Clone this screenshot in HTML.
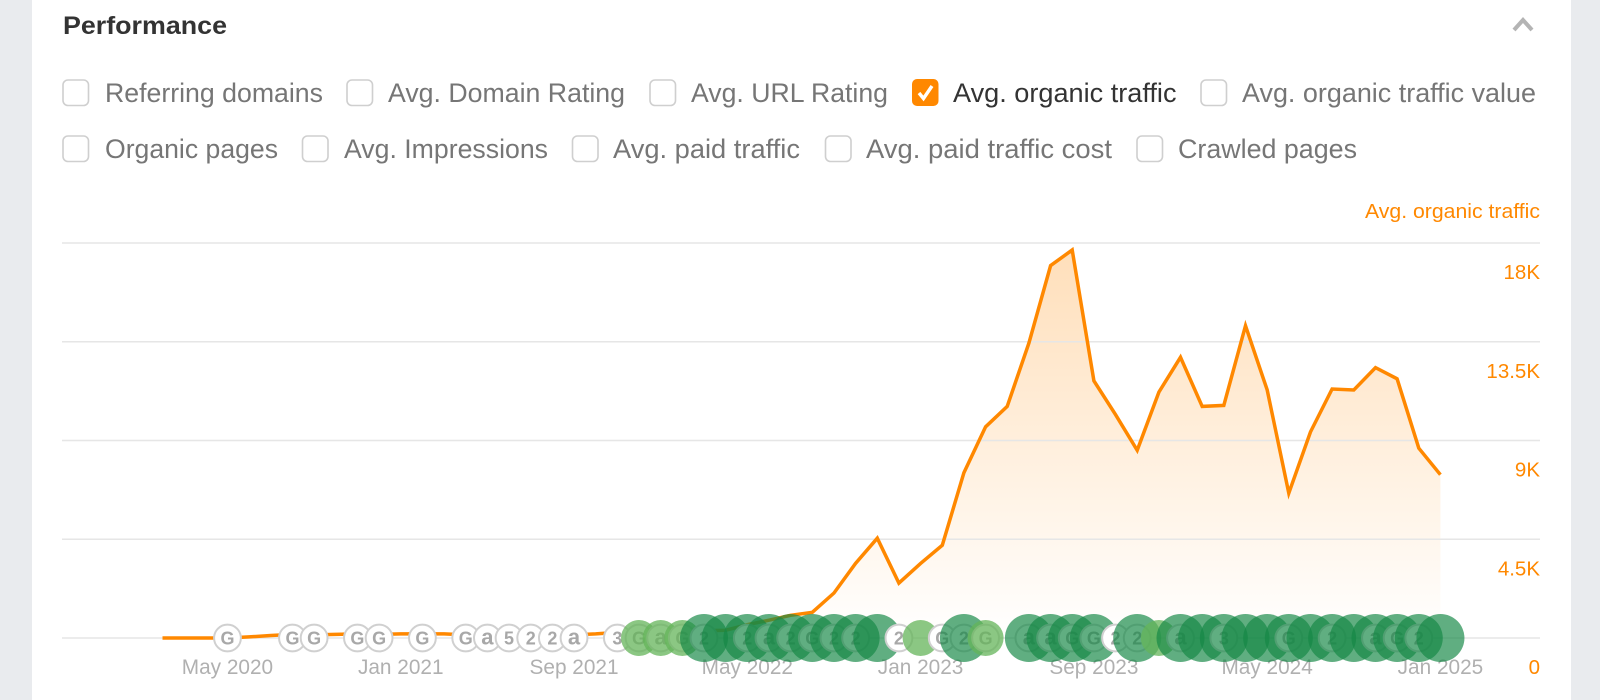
<!DOCTYPE html>
<html lang="en">
<head>
<meta charset="utf-8">
<title>Performance</title>
<style>
html,body{margin:0;padding:0;width:1600px;height:700px;overflow:hidden;background:#e9ebee}
svg{display:block;position:absolute;left:0;top:0}
text{font-family:"Liberation Sans",Arial,sans-serif}
.lbl{font-size:26.5px;fill:#767676}
.cb{fill:#fff;stroke:#cfcfcf;stroke-width:1.6}
</style>
</head>
<body>
<svg id="chart" width="1600" height="700" viewBox="0 0 1600 700" xmlns="http://www.w3.org/2000/svg">
  <defs>
    <linearGradient id="areaFill" gradientUnits="userSpaceOnUse" x1="0" y1="250" x2="0" y2="638">
      <stop offset="0" stop-color="#ff8800" stop-opacity="0.27"/>
      <stop offset="1" stop-color="#ff8800" stop-opacity="0"/>
    </linearGradient>
  </defs>
  <rect x="32" y="-10" width="1539" height="720" fill="#ffffff"/>
  <text x="63" y="34" font-size="25" font-weight="700" fill="#333333" textLength="164" lengthAdjust="spacingAndGlyphs">Performance</text>
  <path d="M1514 30 L1523 20 L1532 30" fill="none" stroke="#b4b4b4" stroke-width="4"/>

  <rect class="cb" x="63" y="80" width="25.5" height="25.5" rx="5"/>
  <text class="lbl" x="105" y="102" textLength="218" lengthAdjust="spacingAndGlyphs">Referring domains</text>
  <rect class="cb" x="347" y="80" width="25.5" height="25.5" rx="5"/>
  <text class="lbl" x="388" y="102" textLength="237" lengthAdjust="spacingAndGlyphs">Avg. Domain Rating</text>
  <rect class="cb" x="650" y="80" width="25.5" height="25.5" rx="5"/>
  <text class="lbl" x="691" y="102" textLength="197" lengthAdjust="spacingAndGlyphs">Avg. URL Rating</text>
  <rect x="912" y="79" width="26.5" height="27" rx="5" fill="#ff8800"/>
  <path d="M919 93 L923.5 98.5 L932 86" fill="none" stroke="#ffffff" stroke-width="3.4"/>
  <text class="lbl" style="fill:#333333" x="953" y="102" textLength="223.500" lengthAdjust="spacingAndGlyphs">Avg. organic traffic</text>
  <rect class="cb" x="1201" y="80" width="25.5" height="25.5" rx="5"/>
  <text class="lbl" x="1242" y="102" textLength="294" lengthAdjust="spacingAndGlyphs">Avg. organic traffic value</text>

  <rect class="cb" x="63" y="136" width="25.5" height="25.5" rx="5"/>
  <text class="lbl" x="105" y="158" textLength="173" lengthAdjust="spacingAndGlyphs">Organic pages</text>
  <rect class="cb" x="302.500" y="136" width="25.5" height="25.5" rx="5"/>
  <text class="lbl" x="344" y="158" textLength="204" lengthAdjust="spacingAndGlyphs">Avg. Impressions</text>
  <rect class="cb" x="572.500" y="136" width="25.5" height="25.5" rx="5"/>
  <text class="lbl" x="613" y="158" textLength="187" lengthAdjust="spacingAndGlyphs">Avg. paid traffic</text>
  <rect class="cb" x="825.500" y="136" width="25.5" height="25.5" rx="5"/>
  <text class="lbl" x="866" y="158" textLength="246" lengthAdjust="spacingAndGlyphs">Avg. paid traffic cost</text>
  <rect class="cb" x="1137" y="136" width="25.5" height="25.5" rx="5"/>
  <text class="lbl" x="1178" y="158" textLength="179" lengthAdjust="spacingAndGlyphs">Crawled pages</text>

  <text x="1540" y="218" text-anchor="end" font-size="20.5" fill="#ff8800" textLength="175" lengthAdjust="spacingAndGlyphs">Avg. organic traffic</text>
  <g id="plot"></g>
</svg>
<script>
// Monthly average organic traffic, Feb 2020 to Jan 2025
const trafficValues = [0,0,0,0,50,115,165,140,165,185,165,185,185,185,140,140,115,115,115,140,185,255,230,230,290,330,355,605,810,1035,1170,2050,3400,4550,2500,3400,4230,7530,9625,10555,13440,16970,17680,11720,10180,8555,11205,12790,10555,10600,14230,11300,6600,9390,11345,11300,12320,11810,8650,7440];
const yTickValues = [0,4500,9000,13500,18000];
const yTickLabels = ["0","4.5K","9K","13.5K","18K"];
const xTickMonths = [3,11,19,27,35,43,51,59];
const xTickLabels = ["May 2020","Jan 2021","Sep 2021","May 2022","Jan 2023","Sep 2023","May 2024","Jan 2025"];
// Annotation markers: month index, kind and glyph
const markerMonths = [3,6,7,9,10,12,14,15,16,17,18,19,21,22,23,24,25,26,27,28,29,30,31,32,33,34,35,36,37,38,40,41,42,43,44,45,46,47,48,49,50,51,52,53,54,55,56,57,58,59];
const markerKinds = ["w","w","w","w","w","w","w","w","w","w","w","w","w","l","l","l","d","d","d","d","d","d","d","d","d","w","l","w","d","l","d","d","d","d","w","d","l","d","d","d","d","d","d","d","d","d","d","d","d","d"];
const markerGlyphs = ["G","G","G","G","G","G","G","a","5","2","2","a","3","G","a","G","2","","2","a","2","G","2","2","","2","","G","2","G","a","a","G","G","2","2","","a","","3","","","G","","2","","a","G","2",""];

const NS = "http://www.w3.org/2000/svg";
const plot = document.getElementById("plot");
const xLeft = 162.5, monthStep = 21.66, yZero = 638, yPerUnit = 395 / 18000;
function xScale(m) { return xLeft + monthStep * m; }
function yScale(v) { return yZero - v * yPerUnit; }
function make(tag, attrs) {
  const el = document.createElementNS(NS, tag);
  for (const k in attrs) el.setAttribute(k, attrs[k]);
  return el;
}

const pts = trafficValues.map(function (v, i) { return xScale(i).toFixed(1) + "," + yScale(v).toFixed(1); });

const area = make("path", { d: "M" + xScale(0) + "," + yZero + " L" + pts.join(" L") + " L" + xScale(trafficValues.length - 1) + "," + yZero + " Z", fill: "url(#areaFill)" });


plot.appendChild(area);

yTickValues.forEach(function (v, i) {
  const g = make("line", { x1: 62, x2: 1540, y1: yScale(v), y2: yScale(v), stroke: "#e6e6e6", "stroke-width": 1.5 });
  
  
  plot.appendChild(g);
  const t = make("text", { x: 1540, y: yScale(v) + 36, "text-anchor": "end", "font-size": 20.5, fill: "#ff8800" });
  
  
  t.textContent = yTickLabels[i];
  plot.appendChild(t);
});

xTickMonths.forEach(function (m, i) {
  const t = make("text", { x: xScale(m), y: 674, "text-anchor": "middle", "font-size": 20.8, fill: "#b0b0b0" });
  
  
  t.textContent = xTickLabels[i];
  plot.appendChild(t);
});

const line = make("polyline", { points: pts.join(" "), fill: "none", stroke: "#ff8800", "stroke-width": 3.5, "stroke-linejoin": "miter" });


plot.appendChild(line);

markerMonths.forEach(function (m, i) {
  const cx = xScale(m), cy = 638, kind = markerKinds[i], glyph = markerGlyphs[i];
  const g = make("g", {});
  
  
  if (glyph || kind === "w") {
    g.appendChild(make("circle", { cx: cx, cy: cy, r: 13.4, fill: "#ffffff", stroke: "#d0d0d0", "stroke-width": 2 }));
    const t = make("text", { x: cx, y: cy + 6.5, "text-anchor": "middle", "font-size": glyph === "a" ? 22 : 18, "font-weight": 700, fill: "#a8a8a8" });
    t.textContent = glyph;
    g.appendChild(t);
  }
  if (kind === "l") g.appendChild(make("circle", { cx: cx, cy: cy, r: 18, fill: "rgba(100,180,90,0.75)" }));
  if (kind === "d") g.appendChild(make("circle", { cx: cx, cy: cy, r: 24, fill: "rgba(20,135,70,0.68)" }));
  plot.appendChild(g);
});
</script>
</body>
</html>
